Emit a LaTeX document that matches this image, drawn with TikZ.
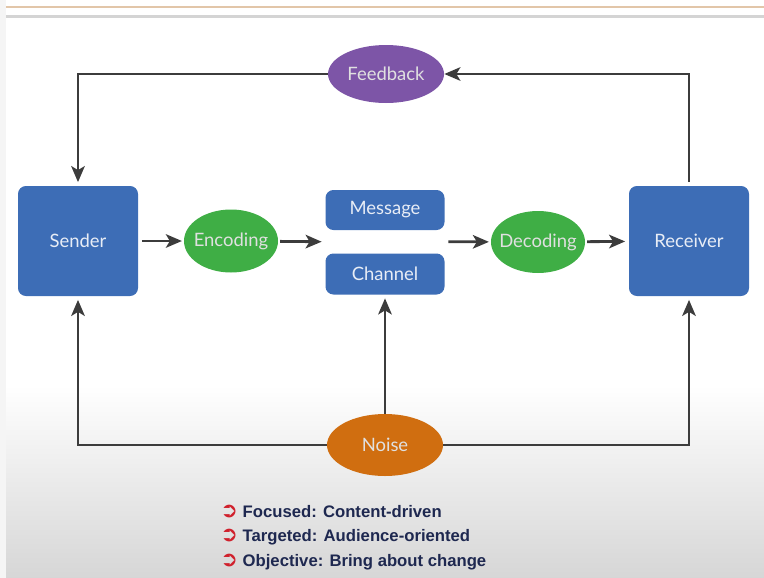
\documentclass[tikz,border=0pt]{standalone}
\usepackage{fontspec}
\setmainfont{Lato}
\newfontfamily\notefont{Liberation Sans}
\newfontfamily\symfont{DejaVu Sans}
\usetikzlibrary{arrows.meta,calc,positioning,shapes.geometric}
\definecolor{CommBlue}{HTML}{3D6DB6}
\definecolor{CommGreen}{HTML}{3FAE45}
\definecolor{CommPurple}{HTML}{7D55A7}
\definecolor{CommOrange}{HTML}{D06E10}
\definecolor{CommArrow}{HTML}{3C3C3C}
\definecolor{NoteNavy}{HTML}{1E2850}
\definecolor{NoteRed}{HTML}{D0202C}
\newcommand{\notebullet}{{\symfont\fontsize{12}{12}\selectfont\color{NoteRed}\char"27B2}}

\begin{document}
\begin{tikzpicture}[x=0.02cm,y=-0.02cm,
  box/.style={fill=CommBlue,rounded corners=4.5pt,text=white!88!CommBlue,font=\fontsize{10.5}{12}\selectfont,inner sep=0pt},
  oval/.style={ellipse,inner xsep=-10pt,inner ysep=-4pt,text=white!88!black,font=\fontsize{10.5}{12}\selectfont},
  link/.style={CommArrow,line width=1.6pt,-{Stealth[length=3.2mm,width=2.7mm,inset=0.8mm]}},
  note/.style={anchor=west,inner sep=0pt,font=\notefont\bfseries\fontsize{9.5}{11}\selectfont,text=NoteNavy}]
  \useasboundingbox (0,0) rectangle (764,578);
  % slide background
  \shade[top color=white,bottom color=black!16] (0,385) rectangle (764,578);
  \fill[black!4] (0,0) rectangle (6,578);
  \draw[line width=1.4pt,brown!45!white] (6,7) -- (764,7);
  \fill[black!17] (6,15) rectangle (764,18);

  % senders, receivers and the middle boxes
  \node[box,minimum width=120*0.02cm,minimum height=110*0.02cm] (sender) at (78,241) {Sender};
  \node[box,minimum width=120*0.02cm,minimum height=110*0.02cm] (receiver) at (689,241) {Receiver};
  \node[box,minimum width=119*0.02cm,minimum height=40*0.02cm] (message) at (385,210) {Message};
  \node[box,minimum width=119*0.02cm,minimum height=41*0.02cm] (channel) at (385,274) {Channel};
  \coordinate (gap) at ($(message.south)!.5!(channel.north)$);

  \node[oval,fill=CommGreen,minimum width=94*0.02cm,minimum height=63*0.02cm] (encoding) at (231,241) {Encoding};
  \node[oval,fill=CommGreen,minimum width=94*0.02cm,minimum height=62*0.02cm] (decoding) at (538,242) {Decoding};
  \node[oval,fill=CommPurple,minimum width=116*0.02cm,minimum height=58*0.02cm] (feedback) at (386,74) {Feedback};
  \node[oval,fill=CommOrange,minimum width=116*0.02cm,minimum height=62*0.02cm] (noise) at (385,445) {Noise};

  % main flow
  \draw[link,shorten <=2pt,shorten >=1pt] (sender) -- (encoding);
  \draw[link,shorten <=1pt,shorten >=2pt] (encoding) -- (gap -| message.west);
  \draw[link,shorten <=2pt,shorten >=1pt] (gap -| message.east) -- (decoding);
  \draw[link,shorten <=1pt,shorten >=2pt] (decoding) -- (receiver);

  % feedback loop
  \draw[link,shorten <=2pt] (receiver.north) |- (feedback.east);
  \draw[link,shorten >=2pt] (feedback.west) -| (sender.north);

  % noise
  \draw[link,shorten >=2pt] (noise.west) -| (sender.south);
  \draw[link,shorten >=2pt] (noise.east) -| (receiver.south);
  \draw[link,shorten >=2pt] (noise.north) -- (channel.south);

  % notes
  \node[note] (focus) at (220,512) {\notebullet\ Focused: Content-driven};
  \node[note] (target) at (220,537) {\notebullet\ Targeted: Audience-oriented};
  \node[note] (goal) at (220,562) {\notebullet\ Objective: Bring about change};
\end{tikzpicture}
\end{document}
